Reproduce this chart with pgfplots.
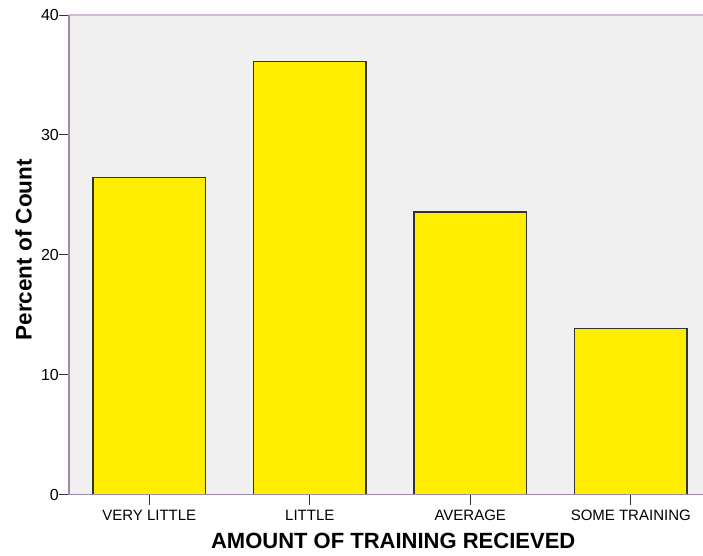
\documentclass[border=0pt]{standalone}
\usepackage{fontspec}
\setmainfont{Liberation Sans}
\usepackage{pgfplots}
\pgfplotsset{compat=1.18}
\definecolor{bgcol}{RGB}{240,240,240}
\definecolor{barcol}{RGB}{255,238,0}
\definecolor{framecol}{RGB}{160,138,172}
\definecolor{topcol}{RGB}{214,184,216}
\begin{document}
\begin{tikzpicture}
\useasboundingbox (0,0) rectangle (703pt,555pt);
\begin{axis}[
  at={(69pt,60.5pt)}, anchor=south west,
  scale only axis, width=642pt, height=479.5pt,
  xmin=-0.5, xmax=3.5, ymin=0, ymax=40,
  axis background/.style={fill=bgcol},
  axis line style={draw=none},
  xtick={0,1,2,3},
  xticklabels={VERY LITTLE, LITTLE, AVERAGE, SOME TRAINING},
  ytick={0,10,20,30,40},
  tick align=outside,
  major tick length=10pt,
  tick style={black!80, line width=0.9pt},
  xtick pos=bottom, ytick pos=left,
  /pgf/number format/assume math mode=true,
  yticklabel style={font=\fontsize{16}{16}\selectfont, inner sep=0pt, anchor=east},
  xticklabel style={font=\fontsize{15}{15}\selectfont, inner sep=0pt, anchor=north, yshift=-5pt},
  xlabel={AMOUNT OF TRAINING RECIEVED},
  ylabel={Percent of Count},
  xlabel style={font=\bfseries\fontsize{22}{22}\selectfont, at={(axis description cs:0.505,0)}, anchor=base, yshift=-53.5pt, inner sep=0pt},
  ylabel style={font=\bfseries\fontsize{22.5}{22.5}\selectfont, at={(axis description cs:-0.0709,0.5104)}, anchor=center, inner sep=0pt},
  clip=false,
]
\addplot[ybar, bar width=112.4pt, fill=barcol, draw=black!80, line width=1.3pt] coordinates {
  (0,26.42) (1,36.1) (2,23.56) (3,13.86)
};
\draw[topcol, line width=1.5pt] (rel axis cs:0,1) -- (rel axis cs:1,1);
\draw[framecol, line width=1.2pt] (rel axis cs:0,0) -- (rel axis cs:1,0);
\draw[framecol, line width=2pt] (rel axis cs:0,0) -- (rel axis cs:0,1);
\end{axis}
\end{tikzpicture}
\end{document}
